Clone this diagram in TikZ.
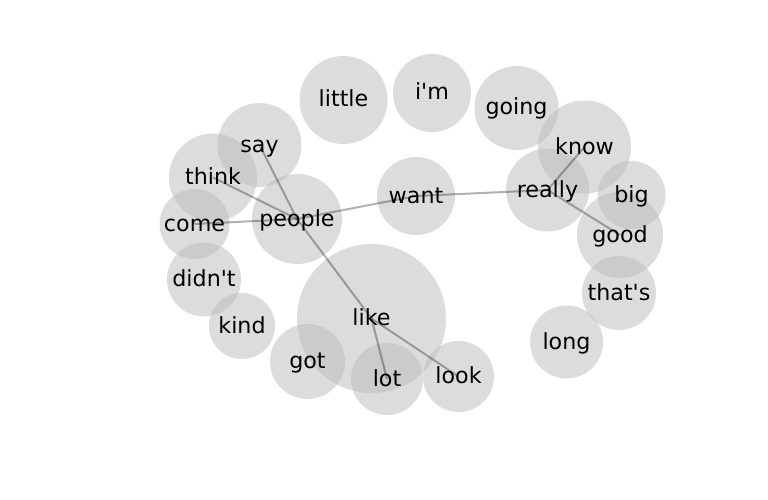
\documentclass[tikz,border=0pt]{standalone}
\usepackage{fontspec}
\setmainfont{DejaVu Sans}[Ligatures=TeXOff]
\definecolor{bubgray}{RGB}{187,187,187}
\begin{document}
\begin{tikzpicture}[x=1pt,y=-1pt,
 bub/.style={circle,fill=bubgray,fill opacity=0.5,draw=none,inner sep=0pt,minimum size=#1},
 word/.style={anchor=base,inner sep=0pt,font=\fontsize{22.2}{26}\selectfont,text=black},
 edge/.style={draw=black,draw opacity=0.3,line width=2pt}]
\fill[white] (0,0) rectangle (768,500);
\useasboundingbox (0,0) rectangle (768,500);
% bubbles
\node[bub=149pt] (like)   at (371.5,318.5) {};
\node[bub=90pt]  (people) at (297,219) {};
\node[bub=88pt]  (little) at (343.5,100) {};
\node[bub=78pt]  (im)     at (432,93) {};
\node[bub=84pt]  (going)  at (516.5,108) {};
\node[bub=93pt]  (know)   at (584.5,147) {};
\node[bub=83pt]  (really) at (547.5,190) {};
\node[bub=68pt]  (big)    at (631.5,195) {};
\node[bub=86pt]  (good)   at (620,235) {};
\node[bub=74pt]  (thats)  at (619,293) {};
\node[bub=73pt]  (long)   at (566.5,342) {};
\node[bub=78pt]  (want)   at (416,196) {};
\node[bub=84pt]  (say)    at (259.5,145) {};
\node[bub=88pt]  (think)  at (213,177.5) {};
\node[bub=70pt]  (come)   at (194.5,224) {};
\node[bub=74pt]  (didnt)  at (204,279.5) {};
\node[bub=66pt]  (kind)   at (242,326) {};
\node[bub=75pt]  (got)    at (307.5,361.5) {};
\node[bub=72pt]  (lot)    at (387,379) {};
\node[bub=71pt]  (look)   at (458.5,376.5) {};
% edges
\draw[edge] (people.center) -- (say.center);
\draw[edge] (people.center) -- (think.center);
\draw[edge] (people.center) -- (come.center);
\draw[edge] (people.center) -- (want.center);
\draw[edge] (people.center) -- (like.center);
\draw[edge] (want.center) -- (really.center);
\draw[edge] (really.center) -- (know.center);
\draw[edge] (really.center) -- (good.center);
\draw[edge] (like.center) -- (lot.center);
\draw[edge] (like.center) -- (look.center);
% words
\path (like.center)   ++(0,7) node[word] (t-like) {like};
\path (people.center) ++(0,7) node[word] (t-people) {people};
\path (little.center) ++(0,7) node[word] (t-little) {little};
\path (im.center)     ++(0,7) node[word] (t-im) {i'm};
\path (going.center)  ++(0,7) node[word] (t-going) {going};
\path (know.center)   ++(0,7) node[word] (t-know) {know};
\path (really.center) ++(0,7) node[word] (t-really) {really};
\path (big.center)    ++(0,7) node[word] (t-big) {big};
\path (good.center)   ++(0,7) node[word] (t-good) {good};
\path (thats.center)  ++(0,7) node[word] (t-thats) {that's};
\path (long.center)   ++(0,7) node[word] (t-long) {long};
\path (want.center)   ++(0,7) node[word] (t-want) {want};
\path (say.center)    ++(0,7) node[word] (t-say) {say};
\path (think.center)  ++(0,7) node[word] (t-think) {think};
\path (come.center)   ++(0,7) node[word] (t-come) {come};
\path (didnt.center)  ++(0,7) node[word] (t-didnt) {didn't};
\path (kind.center)   ++(0,7) node[word] (t-kind) {kind};
\path (got.center)    ++(0,7) node[word] (t-got) {got};
\path (lot.center)    ++(0,7) node[word] (t-lot) {lot};
\path (look.center)   ++(0,7) node[word] (t-look) {look};
\end{tikzpicture}
\end{document}
